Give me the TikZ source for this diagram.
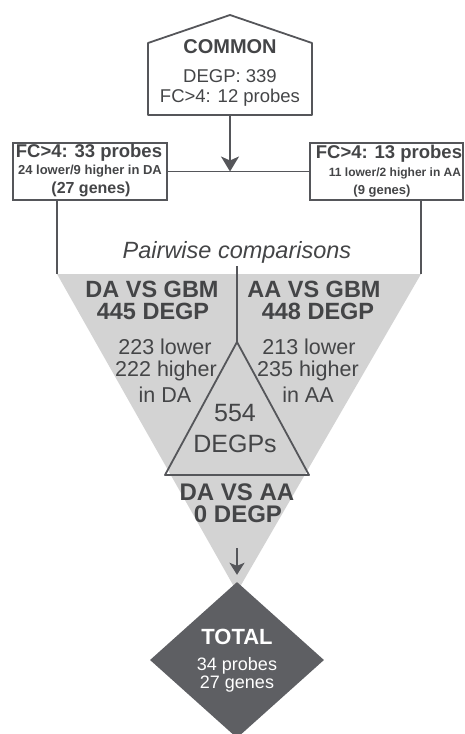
\documentclass[tikz,border=0pt]{standalone}
\usepackage{fontspec}
\setmainfont{Liberation Sans}
\usetikzlibrary{arrows.meta,shapes.geometric}
\definecolor{ink}{HTML}{444547}
\definecolor{linec}{HTML}{55565A}
\definecolor{trifill}{HTML}{D3D3D3}
\definecolor{dia}{HTML}{5E5F63}
\newcommand{\fsz}[1]{\fontsize{#1}{#1}\selectfont}
\begin{document}
\begin{tikzpicture}[x=1pt,y=-1pt,
  txt/.style={inner sep=0pt, text=ink, anchor=center},
  wtxt/.style={inner sep=0pt, text=white, anchor=center},
  boxline/.style={draw=linec, line width=1.8pt},
  boxnode/.style={boxline, inner sep=0pt, minimum height=57pt},
  bigarrow/.style={-{Stealth[length=15pt,width=18pt,inset=4pt]}},
  smallarrow/.style={-{Stealth[length=12pt,width=15pt,inset=3pt]}}]
\useasboundingbox (0,0) rectangle (465,734);

% coordinates of the large triangle and inner triangle
\coordinate (tl) at (57,274);
\coordinate (tr) at (421,274);
\coordinate (tb) at (237,592);
\coordinate (apex) at (237,342);
\coordinate (ibl) at (165,475);
\coordinate (ibr) at (309,475);
\coordinate (ctop) at (237,266);

% large light triangle
\fill[trifill] (tl) -- (tr) -- (tb) -- cycle;

% COMMON pentagon
\coordinate (c1) at (148,115);
\coordinate (c2) at (148,43);
\coordinate (c3) at (230,15);
\coordinate (c4) at (312,43);
\coordinate (c5) at (312,115);
\coordinate (cbot) at (230,115);
\draw[boxline, line join=round] (c1) -- (c2) -- (c3) -- (c4) -- (c5) -- cycle;
\node[txt, font=\bfseries\fsz{20}] (common) at (230,47) {COMMON};
\node[txt, font=\fsz{18.5}] (degp) at (230,76.5) {DEGP: 339};
\node[txt, font=\fsz{18.5}] (fc12) at (230,97.5) {FC>4: 12 probes};

% side boxes
\node[boxnode, minimum width=154pt] (lbox) at (90,171.5) {};
\node[boxnode, minimum width=153pt] (rbox) at (386.5,171.5) {};
\node[txt, font=\bfseries\fsz{18.5}] (l1) at (89,153) {FC>4: 33 probes};
\node[txt, font=\bfseries\fsz{13}] (l2) at (90,171) {24 lower/9 higher in DA};
\node[txt, font=\bfseries\fsz{16}] (l3) at (91,189) {(27 genes)};
\node[txt, font=\bfseries\fsz{18.5}] (r1) at (389,154) {FC>4: 13 probes};
\node[txt, font=\bfseries\fsz{12}] (r2) at (395,173) {11 lower/2 higher in AA};
\node[txt, font=\bfseries\fsz{13}] (r3) at (382,191) {(9 genes)};

% connectors at the top
\coordinate (join) at (lbox.east -| cbot);
\draw[boxline] (lbox.east) -- (rbox.west);
\draw[boxline, bigarrow] (cbot) -- (join);
\draw[boxline] (lbox.south -| tl) -- (tl);
\draw[boxline] (rbox.south -| tr) -- (tr);

% pairwise comparisons
\node[txt, font=\itshape\fsz{23.5}] (pw) at (237,252) {Pairwise comparisons};
\draw[linec, line width=1.5pt] (ctop) -- (apex);
\draw[linec, line width=1.8pt, line join=round] (apex) -- (ibl) -- (ibr) -- cycle;

\node[txt, font=\bfseries\fsz{23.5}] (dagbm) at (152,289) {DA VS GBM};
\node[txt, font=\bfseries\fsz{23.5}] (dadegp) at (153,311) {445 DEGP};
\node[txt, font=\bfseries\fsz{23.5}] (aagbm) at (314,289) {AA VS GBM};
\node[txt, font=\bfseries\fsz{23.5}] (aadegp) at (318,311) {448 DEGP};

\node[txt, font=\fsz{21.5}] (d1) at (165,347) {223 lower};
\node[txt, font=\fsz{21.5}] (d2) at (166,371) {222 higher};
\node[txt, font=\fsz{21.5}] (d3) at (165,395) {in DA};
\node[txt, font=\fsz{21.5}] (a1) at (309,347) {213 lower};
\node[txt, font=\fsz{21.5}] (a2) at (308,371) {235 higher};
\node[txt, font=\fsz{21.5}] (a3) at (308,395) {in AA};

\node[txt, font=\fsz{25}] (n554) at (235,413) {554};
\node[txt, font=\fsz{25}] (ndegps) at (235,444) {DEGPs};

\node[txt, font=\bfseries\fsz{24}] (daaa) at (237,492) {DA VS AA};
\node[txt, font=\bfseries\fsz{24}] (zero) at (238,514) {0 DEGP};

% total diamond
\node[diamond, fill=dia, inner sep=0pt, minimum width=174pt, minimum height=156pt] (total) at (237,660) {};
\coordinate (sarrow) at (237,548);
\draw[linec, line width=1.8pt, smallarrow, shorten >=7pt] (sarrow) -- (total.north);
\node[wtxt, font=\bfseries\fsz{22}] (tot) at (237,637) {TOTAL};
\node[wtxt, font=\fsz{18}] (t1) at (237,666) {34 probes};
\node[wtxt, font=\fsz{18}] (t2) at (237,684) {27 genes};
\end{tikzpicture}
\end{document}
